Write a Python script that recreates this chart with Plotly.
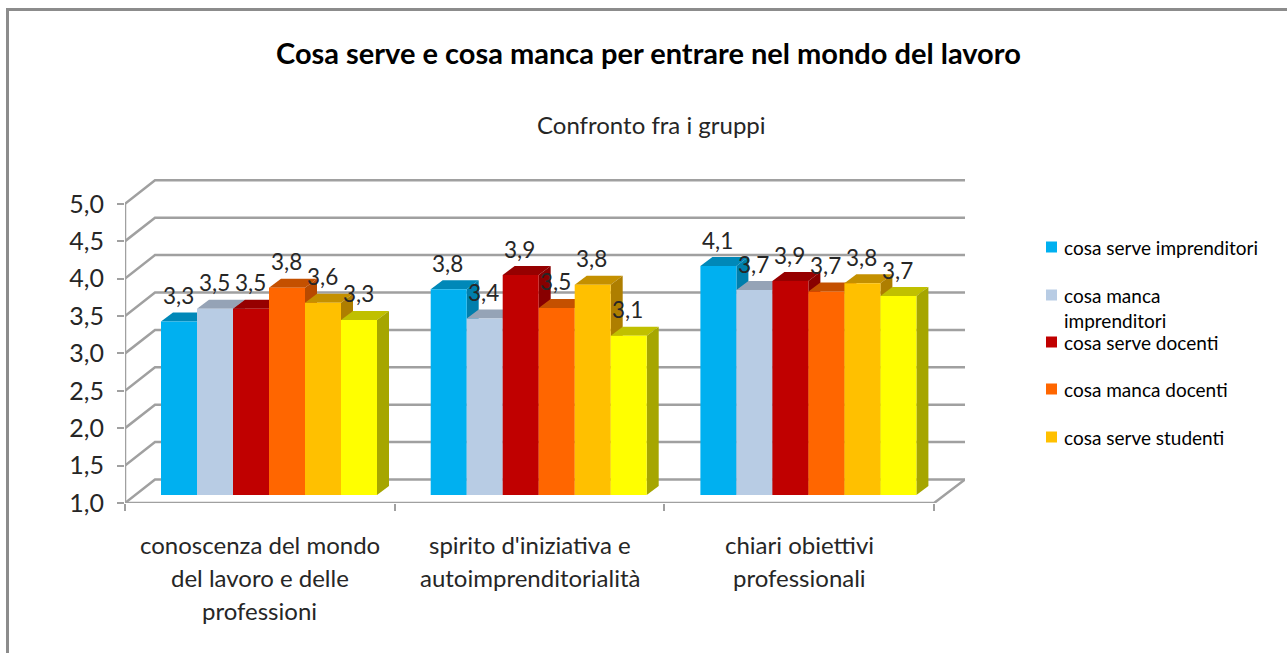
import plotly.graph_objects as go

W, H = 1287, 653

categorie = [
    ['conoscenza del mondo', 'del lavoro e delle', 'professioni'],
    ["spirito d'iniziativa e", 'autoimprenditorialità'],
    ['chiari obiettivi', 'professionali'],
]
y_ticks = [1.0, 1.5, 2.0, 2.5, 3.0, 3.5, 4.0, 4.5, 5.0]

serve_imprenditori = [3.32, 3.75, 4.06]
manca_imprenditori = [3.49, 3.36, 3.74]
serve_docenti = [3.49, 3.94, 3.86]
manca_docenti = [3.77, 3.50, 3.72]
serve_studenti = [3.57, 3.81, 3.83]
manca_studenti = [3.34, 3.13, 3.66]

serie = [serve_imprenditori, manca_imprenditori, serve_docenti,
         manca_docenti, serve_studenti, manca_studenti]
colori = ['#00B0F0', '#B8CCE4', '#C00000', '#FF6600', '#FFC000', '#FFFF00']
colori_top = ['#0088B8', '#95A3B6', '#960000', '#C45000', '#C49000', '#C0C000']
colori_side = ['#007EAC', '#8090A4', '#880000', '#B84A00', '#AE7E00', '#A6A600']

legenda = ['cosa serve imprenditori', 'cosa manca<br>imprenditori', 'cosa serve docenti',
           'cosa manca docenti', 'cosa serve studenti']
legenda_y = [247, 295, 342, 389, 437]

# pixel scale of the category / value axes, used for the fake 3D depth
PX_X = 269.7
PX_Y = 74.8
X0, X1 = 125, 965
Y0, Y1 = 503, 179
FONT = 'Lato, sans-serif'
GRID = '#A0A0A0'


def dx(px):
    return px / PX_X


def dy(px):
    return px / PX_Y


fig = go.Figure()

# walls: side diagonals, back lines, floor
xs, ys = [], []
for t in y_ticks:
    xs += [0, dx(30), dx(X1 - X0), None]
    ys += [t, t + dy(23.5), t + dy(23.5), None]
xs += [0, 0, None, 0, 3, dx(X1 - X0)]
ys += [1, 5, None, 1, 1, 1 + dy(23.5)]
fig.add_trace(go.Scatter(x=xs, y=ys, mode='lines', line=dict(color=GRID, width=2.5),
                         hoverinfo='skip', showlegend=False, cliponaxis=False))


def faccia(px, py, colore):
    fig.add_trace(go.Scatter(x=px, y=py, mode='lines', fill='toself', fillcolor=colore,
                             line=dict(width=0), hoverinfo='skip', showlegend=False))


# bars drawn left to right so each front hides the side of the previous one
larghezza = dx(36)
x_start = dx(36)
base = 1 + dy(8)
prof_x, prof_y = dx(12), dy(9)
etichette = []
for g in range(len(categorie)):
    for s, valori in enumerate(serie):
        x_l = g + x_start + s * larghezza
        x_r = x_l + larghezza
        top = valori[g] + dy(8)
        faccia([x_l, x_r, x_r + prof_x, x_l + prof_x, x_l],
               [top, top, top + prof_y, top + prof_y, top], colori_top[s])
        faccia([x_r, x_r + prof_x, x_r + prof_x, x_r, x_r],
               [base, base + prof_y, top + prof_y, top, base], colori_side[s])
        faccia([x_l, x_r, x_r, x_l, x_l], [base, base, top, top, base], colori[s])
        etichette.append(dict(x=x_l + larghezza / 2, y=top, yshift=26, xshift=-1,
                              text=f'{valori[g]:.1f}'.replace('.', ','), showarrow=False,
                              font=dict(size=22.5, color='#262626', family=FONT)))

# category labels, one annotation per line because of the wide line spacing
for g, righe in enumerate(categorie):
    for r, riga in enumerate(righe):
        etichette.append(dict(x=g + 0.5, xref='x', y=1 - (544 + r * 33) / H, yref='paper',
                              yanchor='middle', text=riga, showarrow=False,
                              font=dict(size=24, color='#262626', family=FONT)))

testi = [
    dict(x=648 / W, y=1 - 53 / H, xref='paper', yref='paper', yanchor='middle', showarrow=False,
         text='<b>Cosa serve e cosa manca per entrare nel mondo del lavoro</b>',
         font=dict(size=29, color='black', family=FONT)),
    dict(x=651 / W, y=1 - 124 / H, xref='paper', yref='paper', yanchor='middle', showarrow=False,
         text='Confronto fra i gruppi', font=dict(size=24, color='#262626', family=FONT)),
]
shapes = [
    # frame: only the top and left edges show in the reference
    dict(type='line', xref='paper', yref='paper', x0=6 / W, x1=1, y0=1 - 9.5 / H, y1=1 - 9.5 / H,
         line=dict(color='#8C8C8C', width=3)),
    dict(type='line', xref='paper', yref='paper', x0=7.5 / W, x1=7.5 / W, y0=0, y1=1 - 8 / H,
         line=dict(color='#8C8C8C', width=3)),
]
for nome, yl, col in zip(legenda, legenda_y, colori):
    shapes.append(dict(type='rect', xref='paper', yref='paper', line=dict(width=0), fillcolor=col,
                       x0=1046 / W, x1=1057 / W, y0=1 - (yl + 5.5) / H, y1=1 - (yl - 5.5) / H))
    testi.append(dict(x=1063 / W, y=1 - (yl - 12) / H, xref='paper', yref='paper', xanchor='left',
                      yanchor='top', align='left', showarrow=False, text=nome, borderpad=0,
                      font=dict(size=19, color='black', family=FONT)))

fig.update_layout(
    width=W, height=H, autosize=False,
    margin=dict(l=0, r=0, t=0, b=0),
    paper_bgcolor='white', plot_bgcolor='white',
    showlegend=False,
    annotations=etichette + testi,
    shapes=shapes,
    xaxis=dict(domain=[X0 / W, X1 / W], range=[0, (X1 - X0) / PX_X], showgrid=False, zeroline=False,
               showline=False, tickvals=[0, 1, 2, 3], ticktext=['', '', '', ''], automargin=False,
               ticks='outside', ticklen=7, tickwidth=2, tickcolor=GRID),
    yaxis=dict(domain=[1 - Y0 / H, 1 - Y1 / H], range=[1, 1 + (Y0 - Y1) / PX_Y], showgrid=False,
               zeroline=False, showline=False, tickvals=y_ticks, automargin=False,
               ticktext=[f'{t:.1f}'.replace('.', ',') for t in y_ticks],
               ticks='outside', ticklen=7, tickwidth=2, tickcolor=GRID, ticklabelstandoff=8,
               tickfont=dict(size=25, color='#262626', family=FONT)),
)

fig.write_html("out.html", config=dict(displayModeBar=False),
               post_script="document.body.style.margin='0';")
